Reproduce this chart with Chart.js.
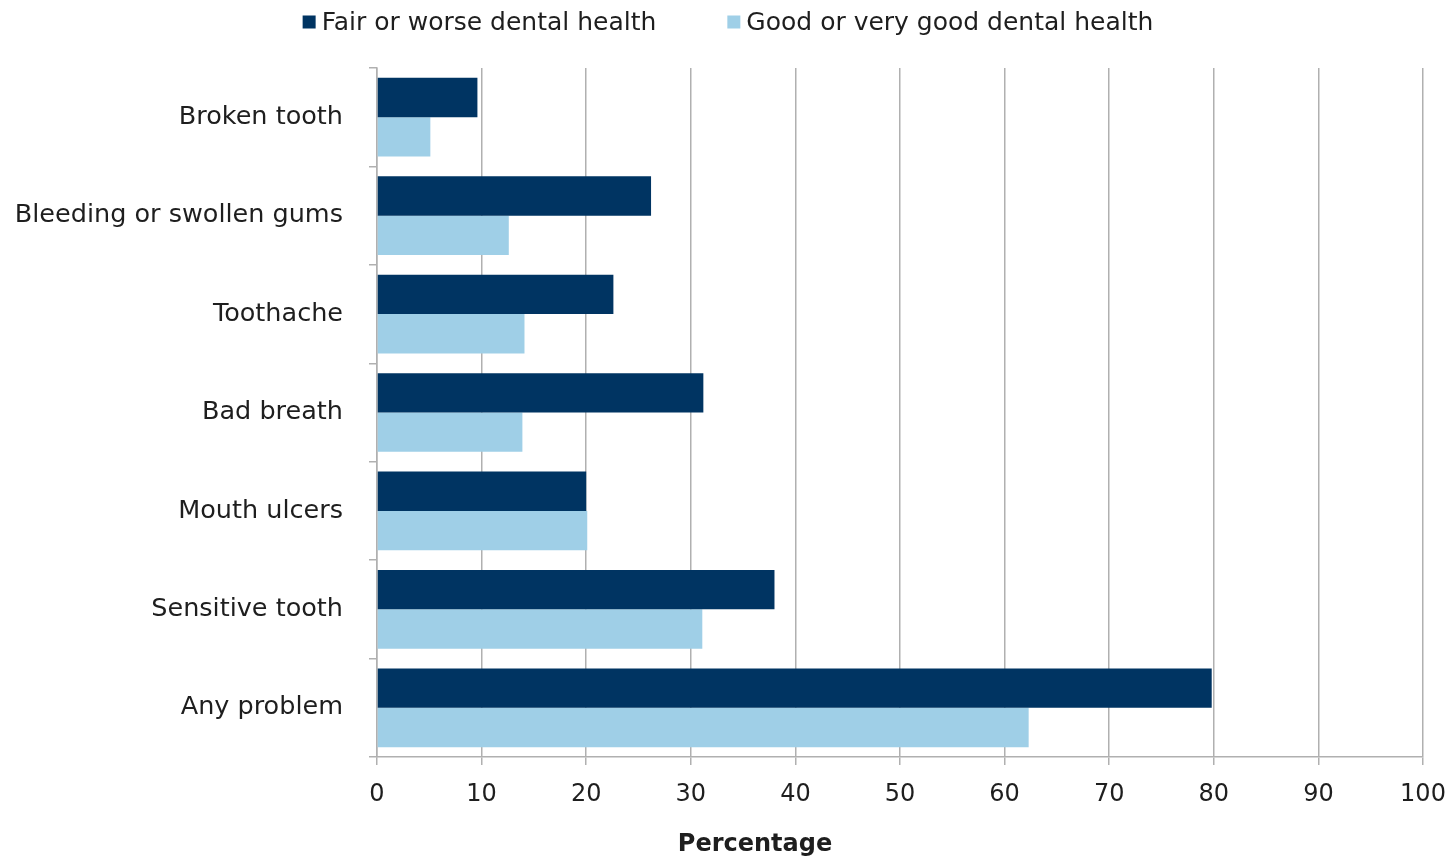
<!DOCTYPE html>
<html>
<head>
<meta charset="utf-8">
<style>
  html, body { margin: 0; padding: 0; background: #fff; }
  #wrap { width: 1456px; height: 859px; }
</style>
<script src="https://cdn.jsdelivr.net/npm/chart.js@4.4.1/dist/chart.umd.min.js"></script>
</head>
<body>
<div id="wrap"><canvas id="dentalChart" width="1456" height="859"></canvas></div>
<script>
const problems = ["Broken tooth", "Bleeding or swollen gums", "Toothache", "Bad breath", "Mouth ulcers", "Sensitive tooth", "Any problem"];
const fairOrWorse = [9.6, 26.2, 22.6, 31.2, 20.0, 38.0, 79.8];
const goodOrVeryGood = [5.1, 12.6, 14.1, 13.9, 20.1, 31.1, 62.3];
const xTicks = [0, 10, 20, 30, 40, 50, 60, 70, 80, 90, 100];
const xTitle = "Percentage";

const DARK = "#003462";
const LIGHT = "#9fcfe7";
const GRID = "#b0b0b0";
const TEXT = "#1e1e1e";
const FONT = "'DejaVu Sans', sans-serif";

// legend across the top (centred on the canvas) and the x-axis title underneath
const frameText = {
    id: "frameText",
    afterDraw(chart) {
        const ctx = chart.ctx;
        const items = chart.data.datasets.map(ds => ({ text: ds.label, color: ds.backgroundColor }));
        const box = 13, gap = 6, spacing = 71, y = 22;
        ctx.save();
        ctx.font = "25px " + FONT;
        ctx.textBaseline = "middle";
        const widths = items.map(it => ctx.measureText(it.text).width);
        let total = 0;
        widths.forEach((w, i) => { total += box + gap + w + (i ? spacing : 0); });
        let x = (chart.width - total) / 2;
        items.forEach((it, i) => {
            ctx.fillStyle = it.color;
            ctx.fillRect(x, y - box / 2, box, box);
            ctx.fillStyle = TEXT;
            ctx.fillText(it.text, x + box + gap, y + 1);
            x += box + gap + widths[i] + spacing;
        });

        ctx.font = "bold 24px " + FONT;
        ctx.textAlign = "center";
        ctx.fillText(xTitle, 755, 845);
        ctx.restore();
    }
};

new Chart(document.getElementById("dentalChart").getContext("2d"), {
    type: "bar",
    data: {
        labels: problems,
        datasets: [{
            label: "Fair or worse dental health",
            data: fairOrWorse,
            backgroundColor: DARK,
            categoryPercentage: 0.8,
            barPercentage: 1.0
        }, {
            label: "Good or very good dental health",
            data: goodOrVeryGood,
            backgroundColor: LIGHT,
            categoryPercentage: 0.8,
            barPercentage: 1.0
        }]
    },
    options: {
        indexAxis: "y",
        responsive: false,
        animation: false,
        layout: { padding: { top: 68, right: 33, left: 0, bottom: 0 } },
        plugins: {
            legend: { display: false },
            tooltip: { enabled: false }
        },
        scales: {
            x: {
                min: 0,
                max: 100,
                afterBuildTicks: axis => { axis.ticks = xTicks.map(v => ({ value: v })); },
                afterFit: axis => {
                    axis.height = 102;
                    axis.paddingRight = 0;
                },
                grid: { color: GRID, lineWidth: 1.5, tickLength: 8 },
                border: { color: GRID, width: 1.5 },
                ticks: { color: TEXT, font: { family: FONT, size: 24 }, padding: 15 }
            },
            y: {
                afterFit: axis => { axis.width = 377; },
                grid: { drawOnChartArea: false, color: GRID, lineWidth: 1.5, tickLength: 8 },
                border: { color: GRID, width: 1.5 },
                ticks: { color: TEXT, font: { family: FONT, size: 25.5 }, padding: 26 }
            }
        }
    },
    plugins: [frameText]
});
</script>
</body>
</html>
